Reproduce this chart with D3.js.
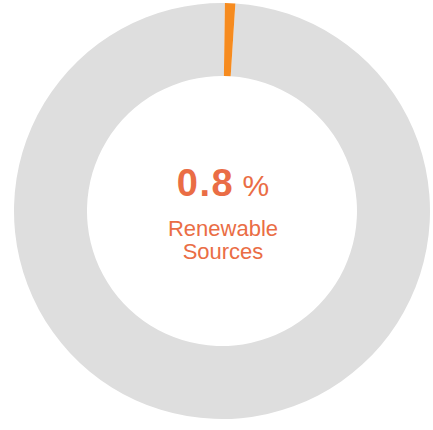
<!DOCTYPE html>
<html>
<head>
<meta charset="utf-8">
<script src="https://cdn.jsdelivr.net/npm/d3@7"></script>
<style>
  html, body { margin: 0; padding: 0; background: #ffffff; }
  svg { display: block; }
</style>
</head>
<body>
<svg id="chart" width="433" height="430"></svg>
<script>
// Share of energy by source
const categories = ["Renewable Sources", "Other Sources"];
const shares = [0.8, 99.2];
const sliceColors = ["#f68b1f", "#dedede"];
const valueLabel = "0.8";
const unitLabel = "%";
const captionLines = ["Renewable", "Sources"];

const svg = d3.select("#chart");
const cx = 222, cy = 211;
const outerR = 208, innerR = 135;

const g = svg.append("g").attr("transform", `translate(${cx},${cy})`);

const pie = d3.pie().sort(null).value(d => d).startAngle(0.014).endAngle(0.014 + 2 * Math.PI);
const arc = d3.arc().innerRadius(innerR).outerRadius(outerR);
const color = d3.scaleOrdinal().domain(categories).range(sliceColors);

// draw the grey remainder first, then the highlighted slice on top
const arcs = pie(shares).map((a, i) => ({ ...a, name: categories[i] }));
g.selectAll("path")
  .data(arcs.slice().reverse())
  .join("path")
  .attr("d", arc)
  .attr("fill", d => color(d.name));

const textColor = "#ea6d45";
const center = svg.append("g").attr("transform", `translate(223,0)`);

const big = center.append("text")
  .attr("x", 0).attr("y", 196)
  .attr("text-anchor", "middle")
  .attr("fill", textColor)
  .style("font-family", "'Liberation Sans', Arial, Helvetica, sans-serif");
big.append("tspan")
  .text(valueLabel)
  .style("font-weight", "bold")
  .style("font-size", "38px")
  .style("letter-spacing", "1.5px");
big.append("tspan")
  .text(" " + unitLabel)
  .style("font-size", "30px");

center.selectAll("text.caption")
  .data(captionLines)
  .join("text")
  .attr("class", "caption")
  .attr("x", 0)
  .attr("y", (d, i) => 236 + i * 23)
  .attr("text-anchor", "middle")
  .attr("fill", textColor)
  .style("font-family", "'Liberation Sans', Arial, Helvetica, sans-serif")
  .style("font-size", "22px")
  .text(d => d);
</script>
</body>
</html>
